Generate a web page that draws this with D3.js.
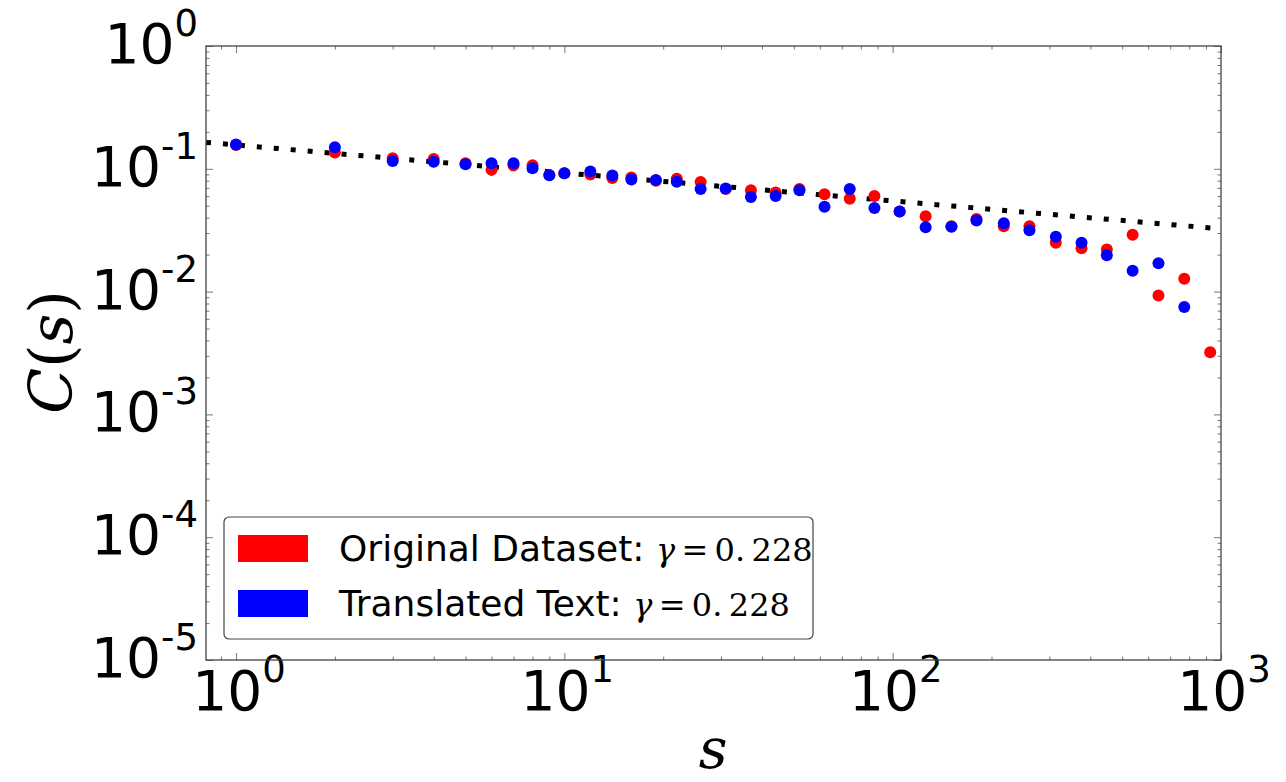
<!DOCTYPE html>
<html lang="en">
<head>
  <meta charset="UTF-8">
  <title>C(s) vs s</title>
  <script src="https://d3js.org/d3.v7.min.js"></script>
  <style>
    html, body {
      margin: 0;
      background: #fff;
    }
    svg {
      display: block;
    }
    .tick-label {
      font-family: "DejaVu Sans", sans-serif;
      fill: #000;
    }
  </style>
</head>
<body>
  <svg width="1286" height="782"></svg>
  <script>
    // s positions (log-binned sizes)
    const sValues = [1, 2, 3, 4, 5, 6, 7, 8, 9, 10,
      12, 14, 16, 19, 22, 26, 31, 37, 44, 52,
      62, 74, 88, 105, 126, 151, 180, 218, 261, 314,
      376, 449, 538, 645, 773, 927];

    // Original Dataset
    const originalC = [0.156, 0.136, 0.122, 0.120, 0.111, 0.098, 0.107, 0.107, 0.089, 0.092,
      0.090, 0.084, 0.085, 0.080, 0.083, 0.078, 0.0685, 0.067, 0.064, 0.0685,
      0.062, 0.057, 0.060, 0.045, 0.041, 0.034, 0.039, 0.034, 0.034, 0.025,
      0.0225, 0.022, 0.029, 0.0093, 0.0127, 0.0032];

    // Translated Text (no point at the last bin)
    const translatedC = [0.158, 0.150, 0.116, 0.114, 0.109, 0.111, 0.111, 0.101, 0.0885, 0.092,
      0.095, 0.088, 0.082, 0.081, 0.0785, 0.0685, 0.069, 0.059, 0.060, 0.067,
      0.049, 0.0685, 0.048, 0.045, 0.0334, 0.0338, 0.038, 0.036, 0.0316, 0.028,
      0.025, 0.0198, 0.0148, 0.017, 0.0075];

    // power-law fit line, gamma = 0.228
    const fitS = [0.81, 1000];
    const fitC = [0.164, 0.0324];

    const xTickLabels = ["0", "1", "2", "3"];
    const yTickLabels = ["0", "-1", "-2", "-3", "-4", "-5"];
    const legendLabels = ["Original Dataset: ", "Translated Text: "];
    const gammaText = "0.\u2009228";

    const margin = { left: 206, top: 46, right: 1221, bottom: 660 };

    const x = d3.scaleLog().domain([0.81, 1000]).range([margin.left, margin.right]);
    const y = d3.scaleLog().domain([1e-5, 1]).range([margin.bottom, margin.top]);

    const svg = d3.select("svg");

    // minor tick values
    const xMinor = [];
    for (let e = -1; e <= 2; e++) {
      for (let m = 2; m <= 9; m++) {
        const v = m * Math.pow(10, e);
        if (v >= 0.81 && v <= 1000) xMinor.push(v);
      }
    }
    const yMinor = [];
    for (let e = -5; e <= -1; e++) {
      for (let m = 2; m <= 9; m++) yMinor.push(m * Math.pow(10, e));
    }
    const xMajor = [1, 10, 100, 1000];
    const yMajor = [1, 0.1, 0.01, 0.001, 0.0001, 0.00001];

    const tickColor = "#777";

    function styleAxis(g) {
      g.select(".domain").remove();
      g.selectAll("line").attr("stroke", tickColor).attr("stroke-width", 1);
      g.selectAll("text").remove();
    }

    const plotW = margin.right - margin.left;
    const plotH = margin.bottom - margin.top;

    // ticks, inward on all four sides
    [[xMajor, 7], [xMinor, 3.5]].forEach(([vals, len]) => {
      svg.append("g").attr("transform", `translate(0,${margin.bottom})`)
        .call(d3.axisBottom(x).tickValues(vals).tickSize(-len).tickFormat(""))
        .call(styleAxis);
      svg.append("g").attr("transform", `translate(0,${margin.top})`)
        .call(d3.axisTop(x).tickValues(vals).tickSize(-len).tickFormat(""))
        .call(styleAxis);
    });
    [[yMajor, 7], [yMinor, 3.5]].forEach(([vals, len]) => {
      svg.append("g").attr("transform", `translate(${margin.left},0)`)
        .call(d3.axisLeft(y).tickValues(vals).tickSize(-len).tickFormat(""))
        .call(styleAxis);
      svg.append("g").attr("transform", `translate(${margin.right},0)`)
        .call(d3.axisRight(y).tickValues(vals).tickSize(-len).tickFormat(""))
        .call(styleAxis);
    });

    // x tick labels
    xMajor.forEach((v, i) => {
      const t = svg.append("text")
        .attr("class", "tick-label")
        .attr("x", x(v) + 3)
        .attr("y", 710)
        .attr("text-anchor", "middle")
        .attr("font-size", 55);
      t.append("tspan").text("10");
      t.append("tspan").attr("dy", -28).attr("font-size", 37).text(xTickLabels[i]);
    });

    // y tick labels
    yMajor.forEach((v, i) => {
      const t = svg.append("text")
        .attr("class", "tick-label")
        .attr("x", 198)
        .attr("y", y(v) + 17)
        .attr("text-anchor", "end")
        .attr("font-size", 55);
      t.append("tspan").text("10");
      t.append("tspan").attr("dy", -27).attr("font-size", 37).text(yTickLabels[i]);
    });

    // fit line
    const line = d3.line().x(d => x(d[0])).y(d => y(d[1]));
    svg.append("path")
      .datum(d3.zip(fitS, fitC))
      .attr("d", line)
      .attr("fill", "none")
      .attr("stroke", "#000")
      .attr("stroke-width", 5)
      .attr("stroke-dasharray", "5,12");

    // points
    svg.append("g").selectAll("circle")
      .data(d3.zip(sValues, originalC))
      .join("circle")
      .attr("cx", d => x(d[0]))
      .attr("cy", d => y(d[1]))
      .attr("r", 6)
      .attr("fill", "#ff0000");

    svg.append("g").selectAll("circle")
      .data(d3.zip(sValues, translatedC))
      .join("circle")
      .attr("cx", d => x(d[0]))
      .attr("cy", d => y(d[1]))
      .attr("r", 6)
      .attr("fill", "#0000ff");

    // frame
    svg.append("rect")
      .attr("x", margin.left)
      .attr("y", margin.top)
      .attr("width", plotW)
      .attr("height", plotH)
      .attr("fill", "none")
      .attr("stroke", "#444")
      .attr("stroke-width", 1.3);

    // axis titles
    svg.append("text")
      .attr("transform", "translate(72,352) rotate(-90)")
      .attr("text-anchor", "middle")
      .attr("font-family", "'DejaVu Serif', serif")
      .attr("font-size", 60)
      .html('<tspan font-style="italic">C</tspan>(<tspan font-style="italic">s</tspan>)');

    svg.append("text")
      .attr("x", 713)
      .attr("y", 768)
      .attr("text-anchor", "middle")
      .attr("font-family", "'DejaVu Serif', serif")
      .attr("font-style", "italic")
      .attr("font-size", 56)
      .text("s");

    // legend
    const legend = svg.append("g");
    legend.append("rect")
      .attr("x", 224).attr("y", 517)
      .attr("width", 589).attr("height", 122)
      .attr("rx", 5)
      .attr("fill", "#fff")
      .attr("stroke", "#444")
      .attr("stroke-width", 1.2);

    const legendColors = ["#ff0000", "#0000ff"];
    legendLabels.forEach((lab, i) => {
      const yy = 535 + i * 55;
      legend.append("rect")
        .attr("x", 238).attr("y", yy)
        .attr("width", 70).attr("height", 27)
        .attr("fill", legendColors[i]);
      const t = legend.append("text")
        .attr("x", 339)
        .attr("y", yy + 26)
        .attr("font-size", 36)
        .attr("class", "tick-label");
      t.append("tspan").text(lab);
      t.append("tspan").attr("font-family", "'DejaVu Serif', serif").attr("font-style", "italic").attr("font-size", 32).text("γ");
      t.append("tspan").attr("font-family", "'DejaVu Serif', serif").attr("font-size", 32).text("\u2009=\u2009" + gammaText);
    });
  </script>
</body>
</html>
